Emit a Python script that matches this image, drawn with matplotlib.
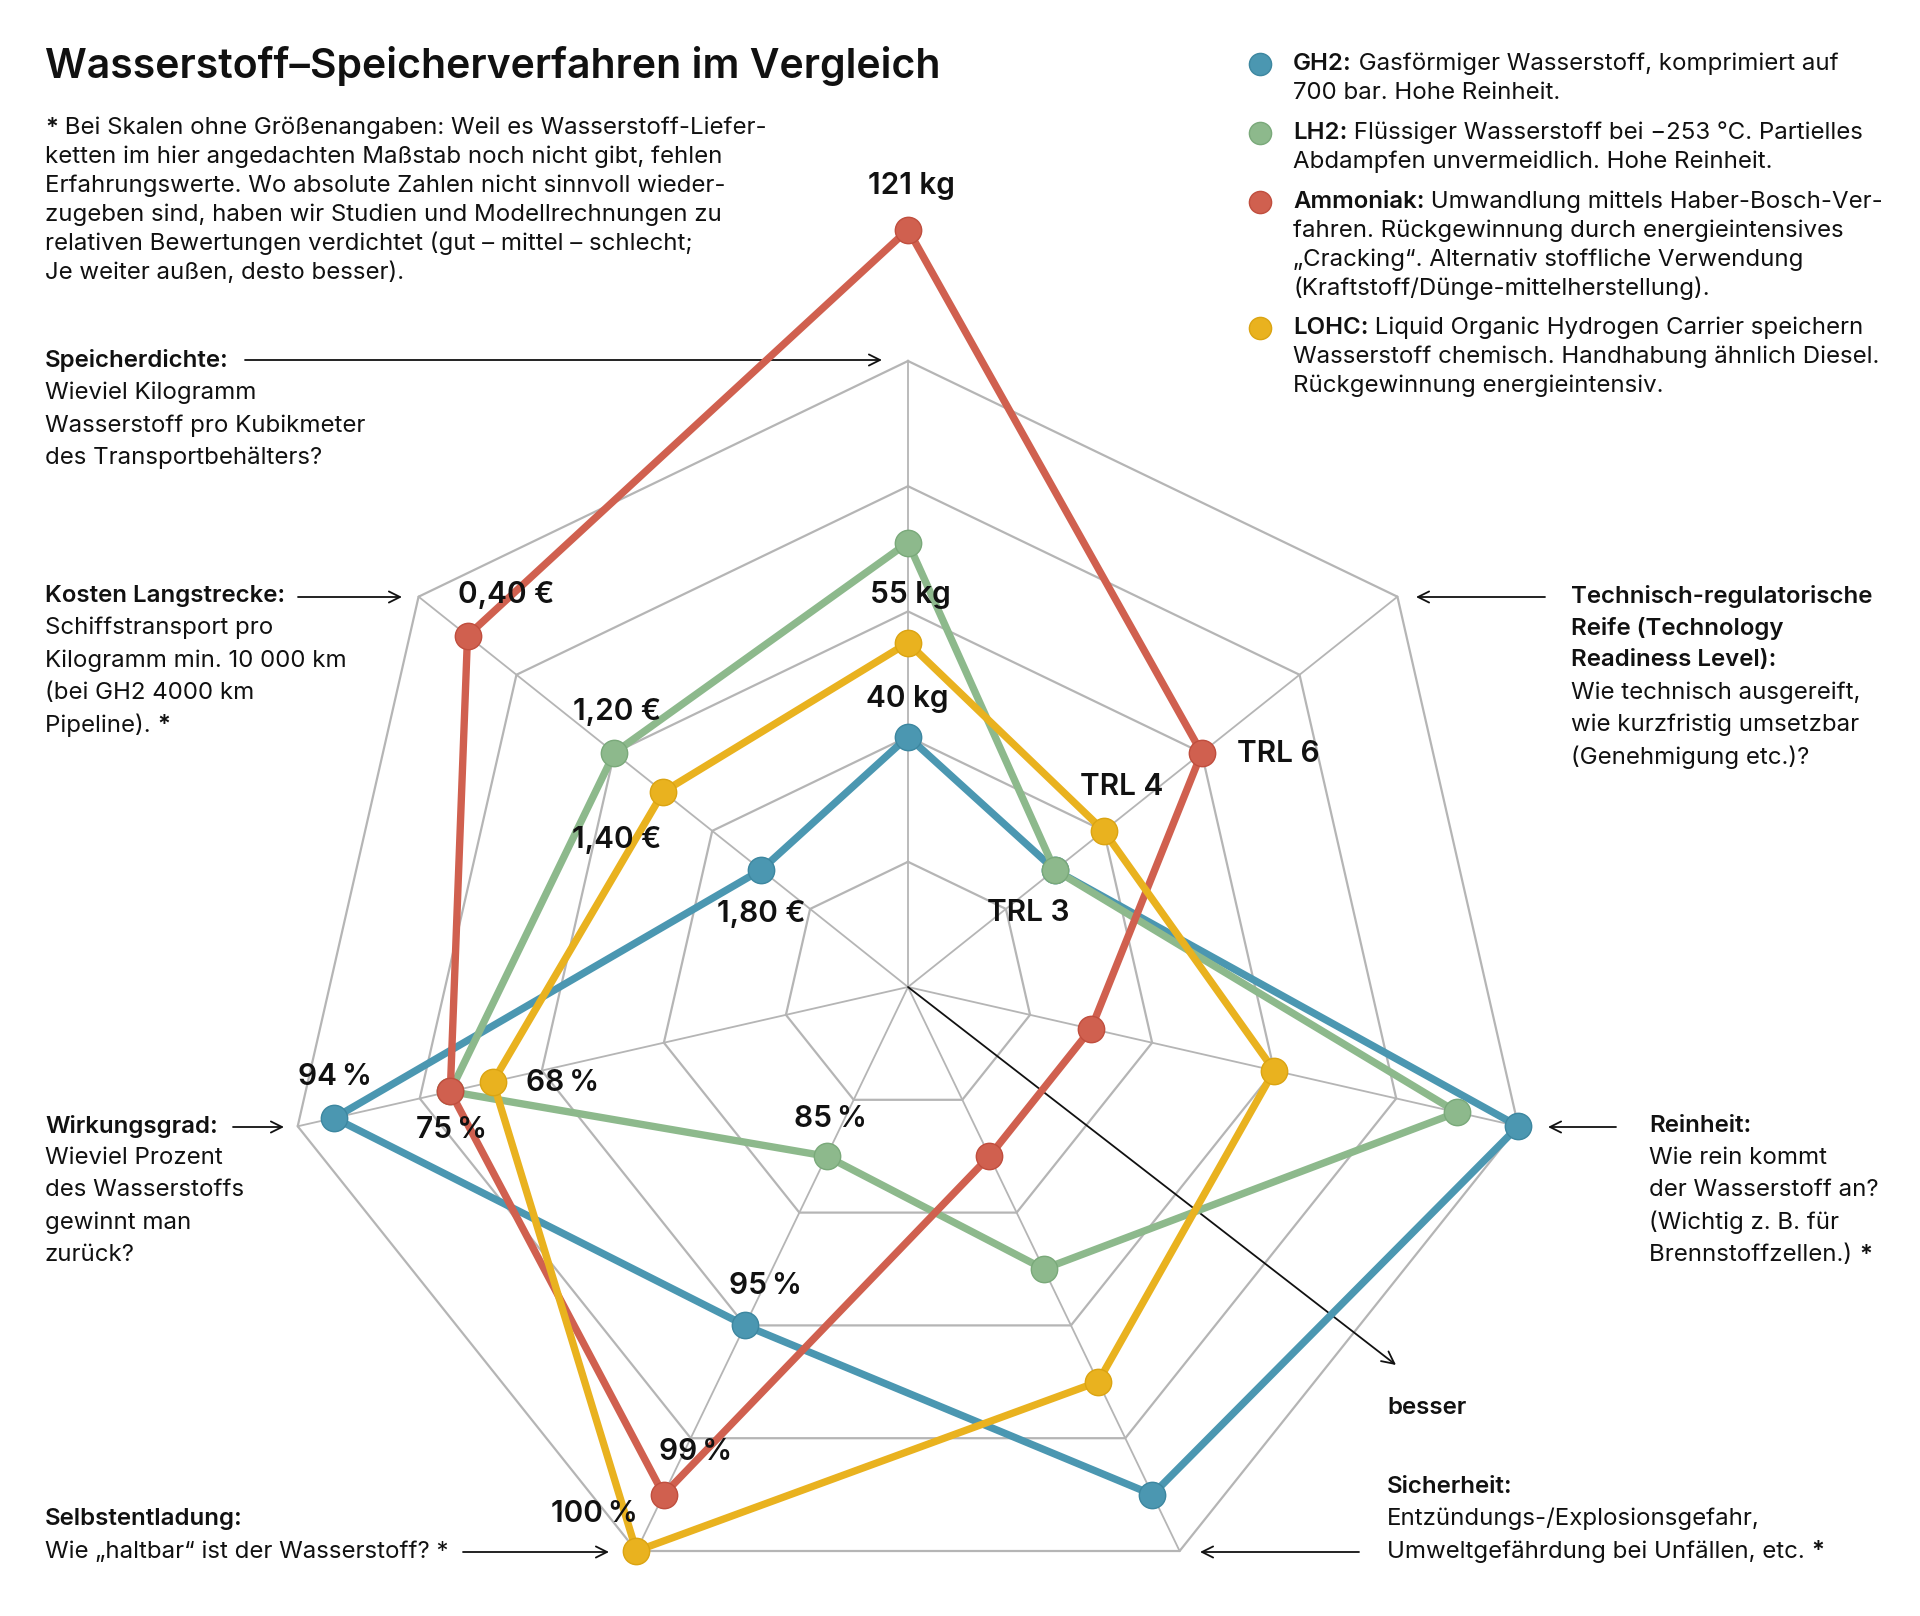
import numpy as np
import matplotlib
matplotlib.use("Agg")
import matplotlib.pyplot as plt

plt.rcParams['font.family'] = ['Inter', 'DejaVu Sans']

# Achsen des Netzdiagramms, im Uhrzeigersinn von oben
achsen = ["Speicherdichte", "Reife (TRL)", "Reinheit", "Sicherheit",
          "Selbstentladung", "Wirkungsgrad", "Kosten Langstrecke"]

# Bewertung relativ zum aeusseren Ring (1.0 = aussen = besser)
gh2 = [0.40, 0.30, 1.00, 0.90, 0.60, 0.94, 0.30]
lh2 = [0.71, 0.30, 0.90, 0.50, 0.30, 0.75, 0.60]
ammoniak = [1.21, 0.60, 0.30, 0.30, 0.90, 0.75, 0.90]
lohc = [0.55, 0.40, 0.60, 0.70, 1.00, 0.68, 0.50]

reihen = [("GH2", gh2, "#4b97b1", "#3d87a0"),
          ("LH2", lh2, "#8db98c", "#7aa97a"),
          ("Ammoniak", ammoniak, "#d0604f", "#c04e3e"),
          ("LOHC", lohc, "#e9b21f", "#dba412")]

ringe = [0.2, 0.4, 0.6, 0.8, 1.0]

# Werte-Beschriftungen (Text, x, y in Pixeln)
wert_labels = [("121 kg", 911, 184), ("55 kg", 910, 593), ("40 kg", 907, 697),
               ("TRL 6", 1278, 752), ("TRL 4", 1122, 785), ("TRL 3", 1028, 911),
               ("0,40 €", 506, 593), ("1,20 €", 617, 710), ("1,40 €", 617, 838),
               ("1,80 €", 761, 912), ("94\u2009%", 335, 1075), ("75\u2009%", 452, 1128),
               ("68\u2009%", 563, 1081), ("85\u2009%", 830, 1117), ("95\u2009%", 765, 1284),
               ("99\u2009%", 696, 1450), ("100\u2009%", 594, 1512)]

W, H = 1920, 1616
CX, CY, R = 908, 987, 626
FS = 17.3
DY = 2  # kleine Korrektur der Textzeilen nach unten
INK = "#111111"

fig = plt.figure(figsize=(W / 100, H / 100), dpi=100)
ax = fig.add_axes([0, 0, 1, 1])
ax.set_xlim(0, W)
ax.set_ylim(H, 0)
ax.axis("off")

n = len(achsen)
theta = np.arange(n) * 2 * np.pi / n


def xy(werte):
    w = np.asarray(werte, dtype=float)
    return CX + R * w * np.sin(theta), CY - R * w * np.cos(theta)


# Gitter
for r in ringe:
    gx, gy = xy([r] * n)
    ax.plot(np.append(gx, gx[0]), np.append(gy, gy[0]), color="#b5b5b5", lw=1.6, zorder=1)
for i in range(n):
    ex, ey = xy([1.0] * n)
    ax.plot([CX, ex[i]], [CY, ey[i]], color="#b5b5b5", lw=1.3, zorder=1)

# "besser"-Pfeil
ax.annotate("", xy=(1396, 1365), xytext=(CX, CY),
            arrowprops=dict(arrowstyle="->", lw=1.3, color=INK, mutation_scale=22,
                            shrinkA=0, shrinkB=0), zorder=2)
ax.text(1387, 1406 + DY, "besser", fontsize=FS, fontweight="semibold", color=INK, va="center")

# Datenreihen
for k, (name, werte, farbe, rand) in enumerate(reihen):
    px, py = xy(werte)
    ax.plot(np.append(px, px[0]), np.append(py, py[0]), color=farbe, lw=5.3,
            solid_joinstyle="round", zorder=3 + k)
    ax.plot(px, py, "o", ms=19, color=farbe, mec=rand, mew=1, zorder=3 + k)

for txt, x, y in wert_labels:
    ax.text(x, y + DY, txt, fontsize=21.5, fontweight="semibold", color=INK,
            ha="center", va="center", zorder=10)


def zeile(x, y, teile):
    # Zeile aus (Text, fett)-Teilen hintereinander setzen
    t = None
    for s, fett in teile:
        w = "semibold" if fett else "normal"
        if t is None:
            t = ax.text(x, y + DY, s, fontsize=FS, fontweight=w, color=INK, va="center")
        else:
            t = ax.annotate(s, xy=(1, 0.5), xycoords=t, va="center", fontsize=FS,
                            fontweight=w, color=INK)
    return t


# Titel und Hinweis
ax.text(45, 66, "Wasserstoff–Speicherverfahren im Vergleich", fontsize=29.5,
        fontweight="semibold", color=INK, va="center")

hinweis = ["Bei Skalen ohne Größenangaben: Weil es Wasserstoff-Liefer-",
           "ketten im hier angedachten Maßstab noch nicht gibt, fehlen",
           "Erfahrungswerte. Wo absolute Zahlen nicht sinnvoll wieder-",
           "zugeben sind, haben wir Studien und Modellrechnungen zu",
           "relativen Bewertungen verdichtet (gut – mittel – schlecht;",
           "Je weiter außen, desto besser)."]
zeile(45, 126, [("*", True), (" " + hinweis[0], False)])
for i, z in enumerate(hinweis[1:]):
    ax.text(45, 126 + DY + 28.9 * (i + 1), z, fontsize=FS, color=INK, va="center")


def block(x, y, zeilen, fett=1, abstand=32.2):
    for i, z in enumerate(zeilen):
        if z.endswith(" *"):
            zeile(x, y + abstand * i, [(z[:-1], i < fett), ("*", True)])
        else:
            zeile(x, y + abstand * i, [(z, i < fett)])


def pfeil(x0, x1, y):
    ax.annotate("", xy=(x1, y), xytext=(x0, y),
                arrowprops=dict(arrowstyle="->", lw=1.3, color=INK,
                                mutation_scale=20, shrinkA=0, shrinkB=0))


block(45, 359, ["Speicherdichte:", "Wieviel Kilogramm", "Wasserstoff pro Kubikmeter",
                "des Transportbehälters?"])
pfeil(245, 882, 360)
block(45, 594, ["Kosten Langstrecke:", "Schiffstransport pro", "Kilogramm min. 10 000 km",
                "(bei GH2 4000 km", "Pipeline). *"])
pfeil(298, 402, 597)
block(45, 1124, ["Wirkungsgrad:", "Wieviel Prozent", "des Wasserstoffs",
                 "gewinnt man", "zurück?"])
pfeil(233, 284, 1127)
block(45, 1517, ["Selbstentladung:"])
ax.text(45, 1550 + DY, "Wie „haltbar“ ist der Wasserstoff? *", fontsize=FS, color=INK,
        va="center")
pfeil(463, 609, 1552)
block(1571, 594, ["Technisch-regulatorische", "Reife (Technology", "Readiness Level):",
                  "Wie technisch ausgereift,", "wie kurzfristig umsetzbar",
                  "(Genehmigung etc.)?"], fett=3)
pfeil(1545, 1416, 597)
block(1649, 1124, ["Reinheit:", "Wie rein kommt", "der Wasserstoff an?",
                   "(Wichtig z. B. für", "Brennstoffzellen.) *"])
pfeil(1616, 1548, 1127)
block(1387, 1485, ["Sicherheit:", "Entzündungs-/Explosionsgefahr,",
                   "Umweltgefährdung bei Unfällen, etc. *"])
pfeil(1359, 1200, 1552)

# Legende
legende = [("GH2:", [" Gasförmiger Wasserstoff, komprimiert auf", "700 bar. Hohe Reinheit."], 62),
           ("LH2:", [" Flüssiger Wasserstoff bei −253 °C. Partielles",
                     "Abdampfen unvermeidlich. Hohe Reinheit."], 131),
           ("Ammoniak:", [" Umwandlung mittels Haber-Bosch-Ver-",
                          "fahren. Rückgewinnung durch energieintensives",
                          "„Cracking“. Alternativ stoffliche Verwendung",
                          "(Kraftstoff/Dünge-mittelherstellung)."], 200),
           ("LOHC:", [" Liquid Organic Hydrogen Carrier speichern",
                      "Wasserstoff chemisch. Handhabung ähnlich Diesel.",
                      "Rückgewinnung energieintensiv."], 326)]

for (kopf, zeilen, y0), (_, _, farbe, rand) in zip(legende, reihen):
    ax.plot([1260], [y0 + DY], "o", ms=16, color=farbe, mec=rand, mew=1)
    zeile(1293, y0, [(kopf, True), (zeilen[0], False)])
    for i, z in enumerate(zeilen[1:]):
        ax.text(1293, y0 + DY + 28.9 * (i + 1), z, fontsize=FS, color=INK, va="center")

fig.savefig("out.png", dpi=100, facecolor="white")
